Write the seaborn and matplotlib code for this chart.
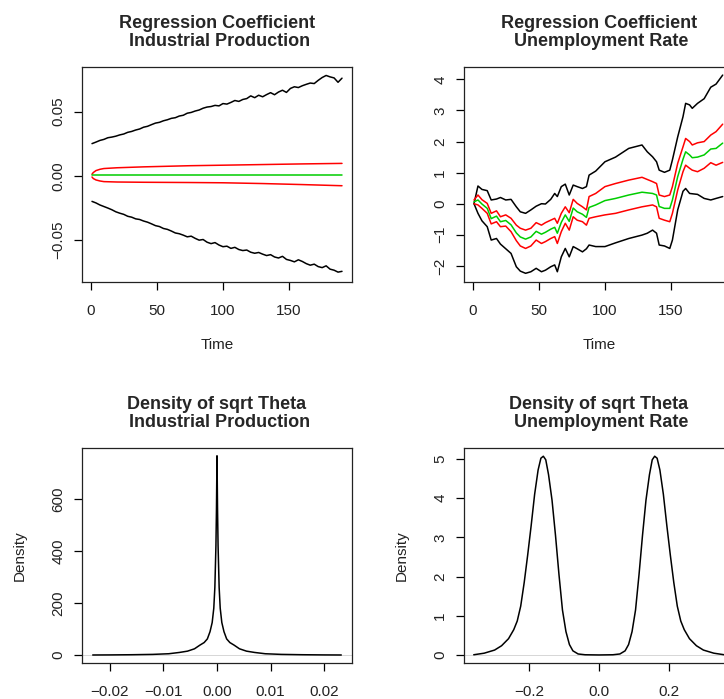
import numpy as np
import pandas as pd
import seaborn as sns
import matplotlib.pyplot as plt

sns.set_theme(style="ticks")
plt.rcParams["font.family"] = ["Liberation Sans", "DejaVu Sans"]

# Industrial Production: time-varying regression coefficient
ip_time = list(range(1, 191, 3))
ip_upper = [0.0250, 0.0262, 0.0275, 0.0283, 0.0296, 0.0301, 0.0308, 0.0318, 0.0325, 0.0338,
            0.0345, 0.0356, 0.0364, 0.0378, 0.0385, 0.0398, 0.0410, 0.0416, 0.0428, 0.0436,
            0.0447, 0.0452, 0.0465, 0.0471, 0.0487, 0.0493, 0.0504, 0.0512, 0.0526, 0.0535,
            0.0539, 0.0548, 0.0544, 0.0562, 0.0558, 0.0571, 0.0586, 0.0579, 0.0594, 0.0601,
            0.0622, 0.0608, 0.0627, 0.0615, 0.0632, 0.0647, 0.0631, 0.0652, 0.0666, 0.0649,
            0.0680, 0.0693, 0.0687, 0.0701, 0.0712, 0.0722, 0.0718, 0.0743, 0.0765, 0.0781,
            0.0770, 0.0762, 0.0728, 0.0760]
ip_lower = [-0.0200, -0.0212, -0.0228, -0.0240, -0.0252, -0.0265, -0.0281, -0.0292, -0.0301, -0.0316,
            -0.0323, -0.0336, -0.0341, -0.0353, -0.0362, -0.0375, -0.0389, -0.0396, -0.0411, -0.0418,
            -0.0431, -0.0446, -0.0452, -0.0463, -0.0476, -0.0471, -0.0488, -0.0502, -0.0497, -0.0518,
            -0.0529, -0.0521, -0.0540, -0.0553, -0.0549, -0.0566, -0.0558, -0.0575, -0.0583, -0.0579,
            -0.0596, -0.0604, -0.0598, -0.0611, -0.0622, -0.0615, -0.0633, -0.0641, -0.0628, -0.0652,
            -0.0660, -0.0671, -0.0655, -0.0668, -0.0685, -0.0697, -0.0689, -0.0708, -0.0716, -0.0702,
            -0.0728, -0.0736, -0.0751, -0.0745]
ip_band_time = [1, 2, 4, 7, 10, 20, 40, 75, 100, 130, 160, 190]
ip_band_hi = [0.0012, 0.0025, 0.0040, 0.0050, 0.0056, 0.0062, 0.0069, 0.0078, 0.0082, 0.0087, 0.0092, 0.0096]
ip_band_lo = [-0.0010, -0.0022, -0.0033, -0.0041, -0.0046, -0.0049, -0.0051, -0.0053, -0.0055, -0.0061, -0.0069, -0.0078]
ip_mean = [0.0002, 0.0002, 0.0002, 0.0002, 0.0002, 0.0002, 0.0002, 0.0002, 0.0002, 0.0002, 0.0002, 0.0002]

# Unemployment Rate: time-varying regression coefficient
ur_time = [1, 4, 7, 11, 14, 18, 21, 25, 29, 33, 36, 40, 44, 48, 52, 55, 59, 62, 64, 67,
           70, 73, 76, 79, 83, 86, 88, 93, 100, 108, 118, 128, 132, 136, 139, 141, 145, 149, 151, 155,
           159, 161, 164, 166, 170, 175, 180, 184, 189]
ur_upper = [0.0, 0.57, 0.46, 0.42, 0.12, 0.15, 0.20, 0.12, 0.14, -0.10, -0.26, -0.31, -0.20, -0.08, 0.00,
            -0.01, 0.14, 0.33, 0.23, 0.55, 0.63, 0.28, 0.60, 0.55, 0.49, 0.55, 0.92, 1.05, 1.35, 1.50,
            1.78, 1.89, 1.67, 1.51, 1.35, 1.08, 1.01, 1.08, 1.41, 2.15, 2.80, 3.23, 3.18, 3.07, 3.23,
            3.38, 3.75, 3.85, 4.14]
ur_hi = [0.12, 0.28, 0.13, 0.01, -0.31, -0.23, -0.42, -0.36, -0.47, -0.69, -0.79, -0.85, -0.79, -0.61, -0.69,
         -0.61, -0.53, -0.47, -0.63, -0.31, -0.10, -0.29, 0.14, 0.01, -0.10, -0.20, 0.23, 0.33, 0.55, 0.65,
         0.76, 0.85, 0.78, 0.71, 0.65, 0.28, 0.23, 0.28, 0.55, 1.30, 1.83, 2.10, 2.00, 1.89, 1.96,
         2.00, 2.21, 2.32, 2.56]
ur_mean = [0.06, 0.12, -0.01, -0.15, -0.48, -0.40, -0.58, -0.54, -0.68, -0.94, -1.07, -1.14, -1.07, -0.89, -0.98,
           -0.92, -0.82, -0.76, -0.95, -0.60, -0.36, -0.57, -0.14, -0.26, -0.34, -0.44, -0.12, -0.04, 0.10, 0.17,
           0.28, 0.37, 0.35, 0.33, 0.28, -0.09, -0.15, -0.15, 0.12, 0.87, 1.43, 1.67, 1.57, 1.48, 1.50,
           1.57, 1.76, 1.78, 1.95]
ur_lo = [0.0, -0.04, -0.15, -0.31, -0.65, -0.58, -0.74, -0.72, -0.90, -1.19, -1.36, -1.44, -1.36, -1.17, -1.28,
         -1.22, -1.12, -1.06, -1.28, -0.90, -0.63, -0.85, -0.42, -0.53, -0.58, -0.69, -0.47, -0.42, -0.36, -0.31,
         -0.20, -0.10, -0.07, -0.04, -0.10, -0.47, -0.53, -0.58, -0.31, 0.44, 1.03, 1.24, 1.14, 1.08, 1.03,
         1.14, 1.32, 1.24, 1.33]
ur_lower = [0.0, -0.31, -0.55, -0.74, -1.17, -1.12, -1.30, -1.45, -1.60, -2.03, -2.17, -2.24, -2.19, -2.08, -2.19,
            -2.14, -2.03, -1.97, -2.19, -1.71, -1.44, -1.71, -1.38, -1.45, -1.55, -1.45, -1.33, -1.38, -1.38, -1.26,
            -1.12, -1.01, -0.95, -0.85, -0.95, -1.33, -1.36, -1.44, -1.17, -0.20, 0.40, 0.49, 0.33, 0.32, 0.30,
            0.17, 0.12, 0.17, 0.23]

# density of sqrt theta
ip_dens_x = [-0.0232, -0.020, -0.016, -0.012, -0.009, -0.007, -0.0055, -0.0042, -0.0032, -0.0024,
             -0.0018, -0.0013, -0.0009, -0.0006, -0.0004, -0.0002, -0.0001, 0.0,
             0.0001, 0.0002, 0.0004, 0.0006, 0.0009, 0.0013, 0.0018, 0.0024, 0.0032, 0.0042,
             0.0055, 0.007, 0.009, 0.012, 0.016, 0.020, 0.0232]
ip_dens_y = [0.2, 0.5, 1.2, 2.5, 5, 10, 15, 24, 38, 48, 62, 90, 125, 180, 260, 420, 560, 766,
             560, 420, 260, 180, 125, 90, 62, 48, 38, 24, 15, 10, 5, 2.5, 1.2, 0.5, 0.2]
ur_dens_x = [-0.36, -0.33, -0.30, -0.28, -0.26, -0.245, -0.235, -0.225, -0.215, -0.205, -0.195, -0.185,
             -0.175, -0.167, -0.160, -0.153, -0.145, -0.135, -0.125, -0.115, -0.105, -0.095, -0.085,
             -0.075, -0.06, -0.04, 0.0, 0.04, 0.06, 0.075, 0.085, 0.095, 0.105, 0.115, 0.125, 0.135,
             0.145, 0.153, 0.160, 0.167, 0.175, 0.185, 0.195, 0.205, 0.215, 0.225, 0.235, 0.245, 0.26,
             0.28, 0.30, 0.33, 0.36]
ur_dens_y = [0.01, 0.05, 0.13, 0.24, 0.42, 0.65, 0.87, 1.25, 1.85, 2.55, 3.3, 4.1, 4.72, 5.02, 5.07,
             4.98, 4.6, 3.95, 3.05, 2.05, 1.15, 0.6, 0.27, 0.11, 0.03, 0.01, 0.005, 0.01, 0.03, 0.11,
             0.27, 0.6, 1.15, 2.05, 3.05, 3.95, 4.6, 4.98, 5.07, 5.02, 4.72, 4.1, 3.3, 2.55, 1.85,
             1.25, 0.87, 0.65, 0.42, 0.24, 0.13, 0.05, 0.01]

W, H = 724, 699
fig = plt.figure(figsize=(W / 100, H / 100), dpi=100)


def box(x0, y0, x1, y1):
    return [x0 / W, 1 - y1 / H, (x1 - x0) / W, (y1 - y0) / H]


def lab(v, nd):
    return f"{v:.{nd}f}".replace("-", "\u2212")


def style(ax, title, xt, xnd, yt, ynd, xlabel, ylabel):
    ax.set_title(title, fontsize=13, fontweight="bold", pad=15, linespacing=1.1)
    ax.set_xticks(xt)
    ax.set_xticklabels([lab(v, xnd) for v in xt])
    ax.set_yticks(yt)
    ax.set_yticklabels([lab(v, ynd) for v in yt], rotation=90, va="center")
    ax.tick_params(axis="both", direction="out", length=6, width=0.9, color="black",
                   labelsize=11, labelcolor="#222222")
    ax.tick_params(axis="x", pad=10)
    ax.tick_params(axis="y", pad=6)
    ax.set_xlabel(xlabel, fontsize=11, labelpad=14, color="#222222")
    ax.set_ylabel(ylabel, fontsize=11, labelpad=18, color="#222222")
    for s in ax.spines.values():
        s.set_color("#222222")
        s.set_linewidth(0.9)
    ax.set_facecolor("white")


pal = {"upper": "black", "lower": "black", "hi": "#ff0000", "lo": "#ff0000", "mean": "#00cd00"}


def coef_frame(parts):
    frames = []
    for name, t, v in parts:
        frames.append(pd.DataFrame({"time": t, "value": v, "series": name}))
    return pd.concat(frames, ignore_index=True)


# top left
ax1 = fig.add_axes(box(82, 67, 352, 282))
df1 = coef_frame([("upper", ip_time, ip_upper), ("lower", ip_time, ip_lower),
                  ("hi", ip_band_time, ip_band_hi), ("lo", ip_band_time, ip_band_lo),
                  ("mean", ip_band_time, ip_mean)])
sns.lineplot(data=df1, x="time", y="value", hue="series", palette=pal, estimator=None,
             legend=False, linewidth=1.1, ax=ax1)
ax1.set_xlim(-6.56, 197.56)
ax1.set_ylim(-0.0828, 0.0847)
style(ax1, "Regression Coefficient\n Industrial Production", [0, 50, 100, 150], 0,
      [-0.05, 0.0, 0.05], 2, "Time", "")

# top right
ax2 = fig.add_axes(box(464, 67, 734, 282))
df2 = coef_frame([("upper", ur_time, ur_upper), ("lower", ur_time, ur_lower),
                  ("hi", ur_time, ur_hi), ("lo", ur_time, ur_lo), ("mean", ur_time, ur_mean)])
sns.lineplot(data=df2, x="time", y="value", hue="series", palette=pal, estimator=None,
             legend=False, linewidth=1.1, ax=ax2)
ax2.set_xlim(-6.56, 197.56)
ax2.set_ylim(-2.52, 4.40)
style(ax2, "Regression Coefficient\n Unemployment Rate", [0, 50, 100, 150], 0,
      [-2, -1, 0, 1, 2, 3, 4], 0, "Time", "")

# bottom left
ax3 = fig.add_axes(box(82, 448, 352, 663))
ax3.axhline(0, color="#d0d0d0", linewidth=0.6, zorder=0)
sns.lineplot(x=ip_dens_x, y=ip_dens_y, color="black", estimator=None, sort=False,
             linewidth=1.1, ax=ax3)
ax3.set_xlim(-0.0252, 0.0252)
ax3.set_ylim(-30.6, 796)
style(ax3, "Density of sqrt Theta\n Industrial Production", [-0.02, -0.01, 0.0, 0.01, 0.02], 2,
      [0, 200, 400, 600], 0, "", "Density")

# bottom right
ax4 = fig.add_axes(box(464, 448, 734, 663))
ax4.axhline(0, color="#d0d0d0", linewidth=0.6, zorder=0)
sns.lineplot(x=ur_dens_x, y=ur_dens_y, color="black", estimator=None, sort=False,
             linewidth=1.1, ax=ax4)
ax4.set_xlim(-0.388, 0.388)
ax4.set_ylim(-0.2, 5.28)
style(ax4, "Density of sqrt Theta\n Unemployment Rate", [-0.2, 0.0, 0.2], 1,
      [0, 1, 2, 3, 4, 5], 0, "", "Density")

fig.savefig("out.png", dpi=100)
